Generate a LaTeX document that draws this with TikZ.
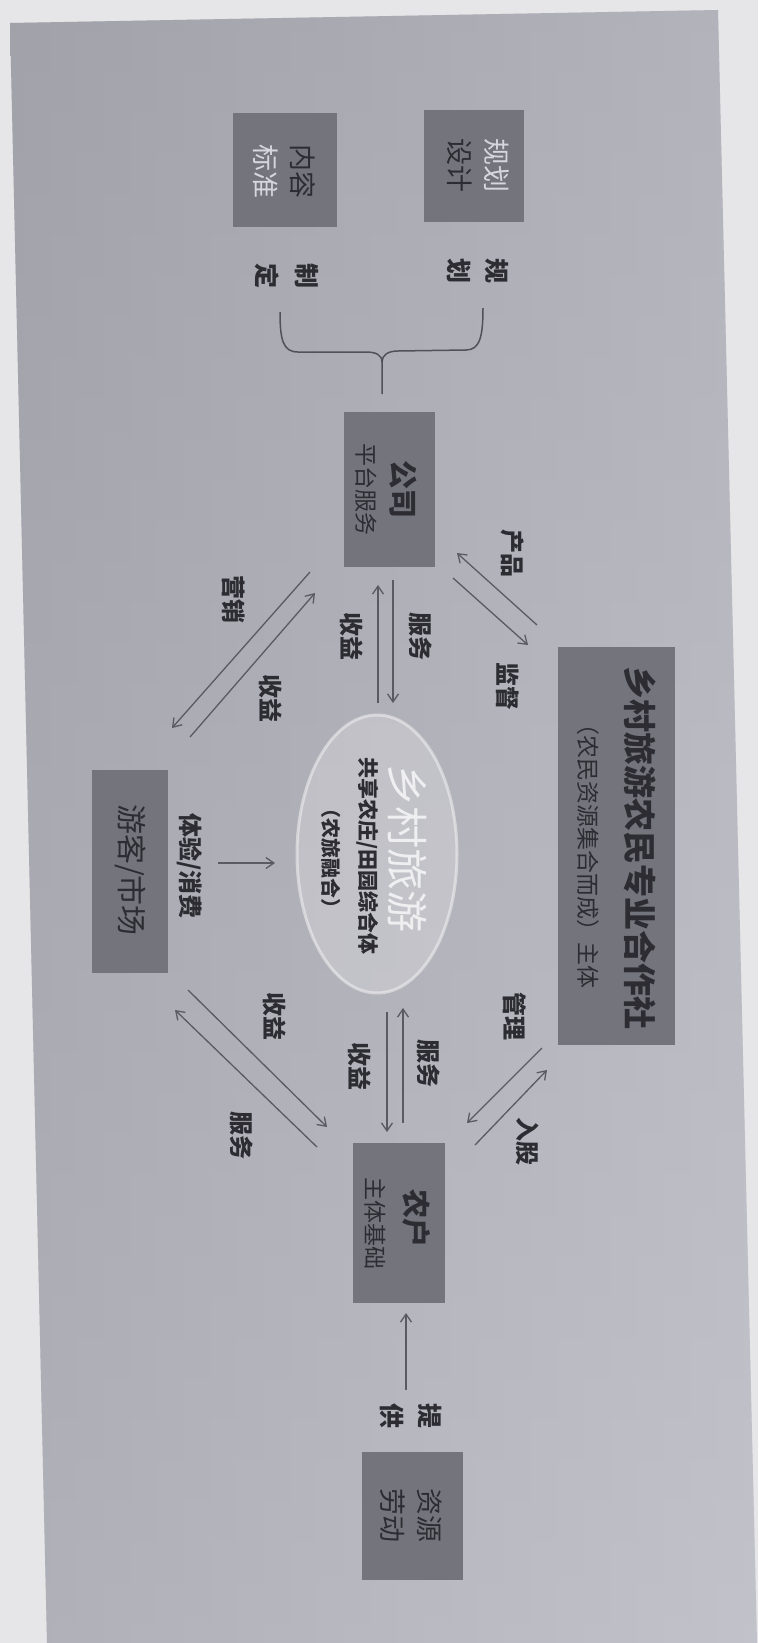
\documentclass[tikz,border=0pt]{standalone}
\usepackage{fontspec}
\setmainfont{Noto Sans CJK SC}
\usetikzlibrary{arrows.meta,shapes.geometric}
\newcommand\setfs[2]{\fontsize{#1}{#2}\selectfont}
\definecolor{pagebg}{HTML}{E6E6E8}
\definecolor{bgL}{HTML}{A6A6AE}
\definecolor{bgR}{HTML}{C2C2CA}
\definecolor{bgT}{HTML}{9A9AA2}
\definecolor{boxc}{HTML}{74747C}
\definecolor{txtdark}{HTML}{2C2C32}
\definecolor{txtlight}{HTML}{D6D6DC}
\definecolor{arrowc}{HTML}{5A5A62}
\begin{document}
\begin{tikzpicture}[x=1pt,y=-1pt,
  box/.style={draw=none, fill=boxc, inner sep=0pt},
  tx/.style={rotate=-90, inner sep=0pt, text=txtdark},
  lbl/.style={tx, align=center, font={\setfs{24}{38}\bfseries}},
  arr/.style={draw=arrowc, line width=1.3pt, -{Straight Barb[length=8pt,width=11pt]}},
  brace/.style={draw=arrowc!90!black, line width=1.5pt}]
\useasboundingbox (0,0) rectangle (758,1643);
\fill[pagebg] (0,0) rectangle (758,1643);
\shade[left color=bgL, right color=bgR]
  (10,23) -- (718,10) -- (757,1643) -- (47,1643) -- cycle;
\shade[top color=bgT, bottom color=bgR, opacity=0.35]
  (10,23) -- (718,10) -- (757,1643) -- (47,1643) -- cycle;

% boxes
\node[box, minimum width=104pt, minimum height=114pt] (nrbz) at (285,170) {};
\node[box, minimum width=100pt, minimum height=112pt] (ghsj) at (474,166) {};
\node[box, minimum width=91pt, minimum height=155pt] (gs) at (389.5,489.5) {};
\node[box, minimum width=117pt, minimum height=398pt] (hzs) at (616.5,846) {};
\node[box, minimum width=76pt, minimum height=203pt] (yk) at (130,871.5) {};
\node[box, minimum width=92pt, minimum height=160pt] (nh) at (399,1223) {};
\node[box, minimum width=101pt, minimum height=128pt] (zy) at (412.5,1516) {};

% central ellipse
\node[ellipse, minimum width=160pt, minimum height=278pt, fill=white, fill opacity=0.22,
  draw=white, draw opacity=0.45, line width=3pt] (ctr) at (377,854) {};

% box texts
\node[tx, font={\setfs{27}{27}}] (nrA) at (302.5,171) {内容};
\node[tx, font={\setfs{27}{27}}, text=txtlight] (nrB) at (265.5,171) {标准};
\node[tx, font={\setfs{27}{27}}, text=txtlight] (ghA) at (497,166) {规划};
\node[tx, font={\setfs{27}{27}}] (ghB) at (460,166) {设计};
\node[tx, font={\setfs{29}{29}\bfseries}] (gsA) at (403.5,489) {公司};
\node[tx, font={\setfs{23}{23}}] (gsB) at (366.5,489) {平台服务};
\node[tx, font={\setfs{33}{33}\bfseries}] (hzA) at (640,848) {乡村旅游农民专业合作社};
\node[tx, font={\setfs{23}{23}}] (hzB) at (588,850) {（农民资源集合而成）主体};
\node[tx, font={\setfs{30}{30}}] (ykA) at (131,870) {游客/市场};
\node[tx, font={\setfs{29}{29}\bfseries}] (nhA) at (416,1218) {农户};
\node[tx, font={\setfs{23}{23}}] (nhB) at (375.5,1223) {主体基础};
\node[tx, font={\setfs{27}{27}}] (zyA) at (430,1515) {资源};
\node[tx, font={\setfs{27}{27}}] (zyB) at (393,1515) {劳动};

% ellipse texts
\node[tx, font={\setfs{42}{42}}, text=white, opacity=0.75] (xc) at (407,848) {乡村旅游};
\node[tx, font={\setfs{21}{21}\bfseries}] (gx) at (368,856) {共享农庄/田园综合体};
\node[tx, font={\setfs{20}{20}\bfseries}] (nl) at (331,858) {（农旅融合）};

% labels
\node[lbl, font={\setfs{25}{40}\bfseries}] (zd) at (287,276) {制\\定};
\node[lbl, font={\setfs{25}{38}\bfseries}] (gh) at (478,271) {规\\划};
\node[lbl] (cp) at (513,553) {产品};
\node[lbl] (jd) at (508,686) {监督};
\node[lbl] (fw1) at (421,636) {服务};
\node[lbl] (sy1) at (352,636) {收益};
\node[lbl] (yx) at (234,599) {营销};
\node[lbl] (sy2) at (271,698) {收益};
\node[lbl] (ty) at (190,866) {体验/消费};
\node[lbl] (fw2) at (429,1063) {服务};
\node[lbl] (sy3) at (360,1066) {收益};
\node[lbl] (sy4) at (275,1016) {收益};
\node[lbl] (fw3) at (242,1135) {服务};
\node[lbl] (gl) at (515,1016) {管理};
\node[lbl] (rg) at (528,1141) {入股};
\node[lbl, font={\setfs{25}{38}\bfseries}] (tg) at (411,1416) {提\\供};

% brace
\coordinate (brL) at (280,312);
\coordinate (brR) at (483,308);
\coordinate (brM) at (382,362);
\coordinate (brS) at (382,394);
\draw[brace] (brL) .. controls (280,340) and (283,352) .. (298,352) -- (366,352)
  .. controls (376,352) and (382,355) .. (brM) -- (brS);
\draw[brace] (brR) .. controls (483,336) and (480,350) .. (466,350) -- (398,351)
  .. controls (388,351) and (382,355) .. (brM);

% arrow endpoints
\coordinate (a1s) at (393,580);  \coordinate (a1e) at (393,703);
\coordinate (a2s) at (378,703);  \coordinate (a2e) at (378,585);
\coordinate (a3s) at (537,625);  \coordinate (a3e) at (457,553);
\coordinate (a4s) at (453,578);  \coordinate (a4e) at (528,645);
\coordinate (a5s) at (310,572);  \coordinate (a5e) at (172,728);
\coordinate (a6s) at (190,737);  \coordinate (a6e) at (315,593);
\coordinate (a7s) at (218,863);  \coordinate (a7e) at (275,863);
\coordinate (a8s) at (387,1012); \coordinate (a8e) at (387,1132);
\coordinate (a9s) at (403,1123); \coordinate (a9e) at (403,1008);
\coordinate (b1s) at (188,990);  \coordinate (b1e) at (327,1127);
\coordinate (b2s) at (317,1147); \coordinate (b2e) at (175,1010);
\coordinate (b3s) at (542,1048); \coordinate (b3e) at (467,1123);
\coordinate (b4s) at (475,1145); \coordinate (b4e) at (547,1070);
\coordinate (b5s) at (406,1390); \coordinate (b5e) at (406,1313);

\draw[arr] (a1s) -- (a1e);
\draw[arr] (a2s) -- (a2e);
\draw[arr] (a3s) -- (a3e);
\draw[arr] (a4s) -- (a4e);
\draw[arr] (a5s) -- (a5e);
\draw[arr] (a6s) -- (a6e);
\draw[arr] (a7s) -- (a7e);
\draw[arr] (a8s) -- (a8e);
\draw[arr] (a9s) -- (a9e);
\draw[arr] (b1s) -- (b1e);
\draw[arr] (b2s) -- (b2e);
\draw[arr] (b3s) -- (b3e);
\draw[arr] (b4s) -- (b4e);
\draw[arr] (b5s) -- (b5e);
\end{tikzpicture}
\end{document}
